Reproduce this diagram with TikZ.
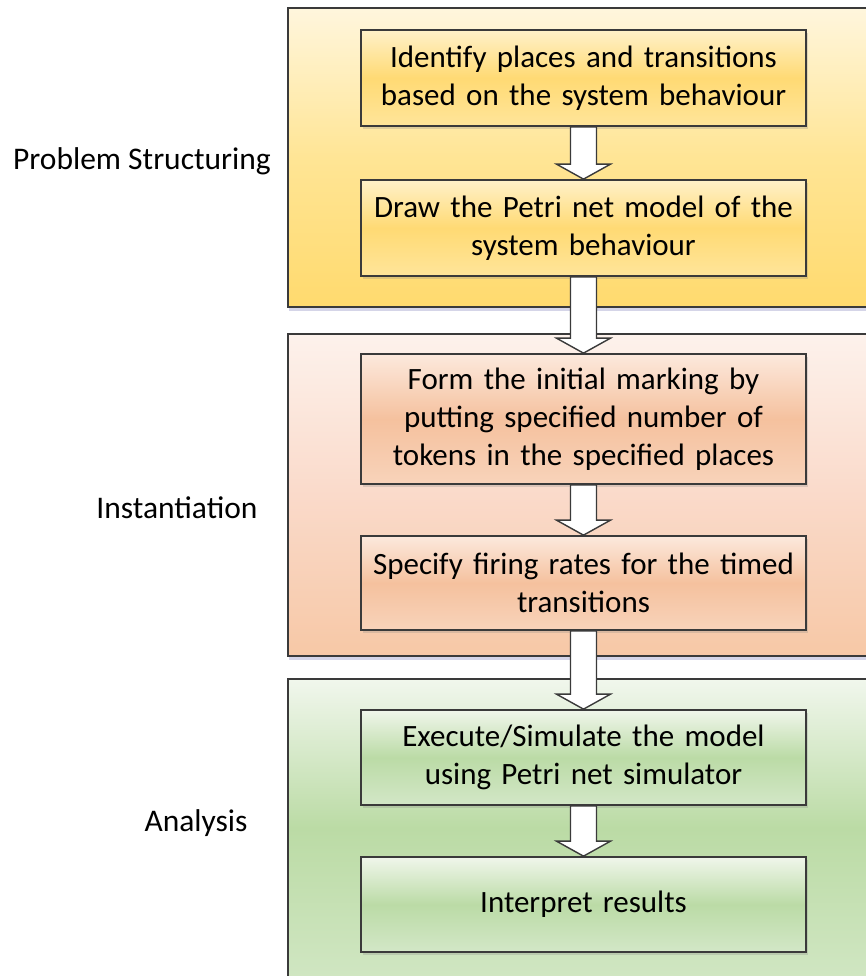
\documentclass[tikz,border=0pt]{standalone}
\usepackage{fontspec}
\setmainfont{Carlito}
\usetikzlibrary{shadows,calc}
\definecolor{bordc}{HTML}{3A3A3A}
\definecolor{ytop}{HTML}{FFF6DD}
\definecolor{ymid}{HTML}{FFE595}
\definecolor{ybot}{HTML}{FFDA6E}
\definecolor{byt}{HTML}{FFF1C9}
\definecolor{bym}{HTML}{FFDA74}
\definecolor{byb}{HTML}{FFE59A}
\definecolor{otop}{HTML}{FDF2EC}
\definecolor{omid}{HTML}{FADACA}
\definecolor{obot}{HTML}{F7C8A6}
\definecolor{bot}{HTML}{FCE9DD}
\definecolor{bom}{HTML}{F5C19E}
\definecolor{bob}{HTML}{F8D3BA}
\definecolor{gtop}{HTML}{F1F7ED}
\definecolor{gmid}{HTML}{BBDBA5}
\definecolor{gbot}{HTML}{D0E6C2}
\definecolor{bgt}{HTML}{F0F6EB}
\definecolor{bgm}{HTML}{BBDBA6}
\definecolor{bgb}{HTML}{D3E7C7}
\tikzset{
  x=1pt,y=1pt,
  panel/.style={draw=bordc, line width=1.6pt, rectangle, anchor=north west,
    minimum width=620pt, inner sep=0pt,
    drop shadow={shadow xshift=1pt, shadow yshift=-4pt, opacity=0.25, fill=blue!30!gray}},
  stepbox/.style={draw=bordc, line width=1.7pt, rectangle, minimum width=445pt,
    text width=440pt, align=center, inner sep=0pt,
    font=\fontsize{31}{38}\selectfont,
    drop shadow={shadow xshift=2pt, shadow yshift=-3pt, opacity=0.25, fill=gray}},
  ybox/.style={stepbox, top color=byt, bottom color=byb, middle color=bym},
  obox/.style={stepbox, top color=bot, bottom color=bob, middle color=bom},
  gbox/.style={stepbox, top color=bgt, bottom color=bgb, middle color=bgm},
  lab/.style={font=\fontsize{31.5}{36}\selectfont, inner sep=0pt},
  blockarrow/.style={draw=bordc, line width=1.4pt, fill=white, line join=miter}
}
\newcommand{\barrow}[2]{%
  \path let \p1=(#1.south), \p2=(#2.north) in
    coordinate (aS) at (\x1,\y1) coordinate (aE) at (\x1,\y2);
  \draw[blockarrow] let \p1=(aS), \p2=(aE) in
    (\x1-13,\y1) -- (\x1-13,\y2+15) -- (\x1-27,\y2+15) -- (\x1,\y2)
    -- (\x1+27,\y2+15) -- (\x1+13,\y2+15) -- (\x1+13,\y1) -- cycle;
}
\begin{document}
\begin{tikzpicture}
\useasboundingbox (0,0) rectangle (866,-976);
\clip (0,0) rectangle (866,-976);
\fill[white] (0,0) rectangle (866,-976);
% panels
\node[panel, minimum height=299pt, top color=ytop, bottom color=ybot, middle color=ymid] (p1) at (287,-7) {};
\node[panel, minimum height=322pt, top color=otop, bottom color=obot, middle color=omid] (p2) at (287,-333) {};
\node[panel, minimum height=298pt, top color=gtop, bottom color=gbot, middle color=gmid] (p3) at (287,-678) {};
% labels
\node[lab] (l1) at (142,-161) {Problem Structuring};
\node[lab] (l2) at (177,-508) {Instantiation};
\node[lab] (l3) at (196,-823) {Analysis};
% steps
\node[ybox, minimum height=96pt] (b1) at (583.5,-78) {Identify places and transitions\\based on the system behaviour};
\node[ybox, minimum height=96pt] (b2) at (583.5,-228) {Draw the Petri net model of the\\system behaviour};
\node[obox, minimum height=130pt] (b3) at (583.5,-419) {Form the initial marking by\\putting specified number of\\tokens in the specified places};
\node[obox, minimum height=94pt] (b4) at (583.5,-583) {Specify firing rates for the timed\\transitions};
\node[gbox, minimum height=95pt] (b5) at (583.5,-757.5) {Execute/Simulate the model\\using Petri net simulator};
\node[gbox, minimum height=95pt] (b6) at (583.5,-904.5) {Interpret results};
% arrows
\barrow{b1}{b2}
\barrow{b2}{b3}
\barrow{b3}{b4}
\barrow{b4}{b5}
\barrow{b5}{b6}
\end{tikzpicture}
\end{document}
